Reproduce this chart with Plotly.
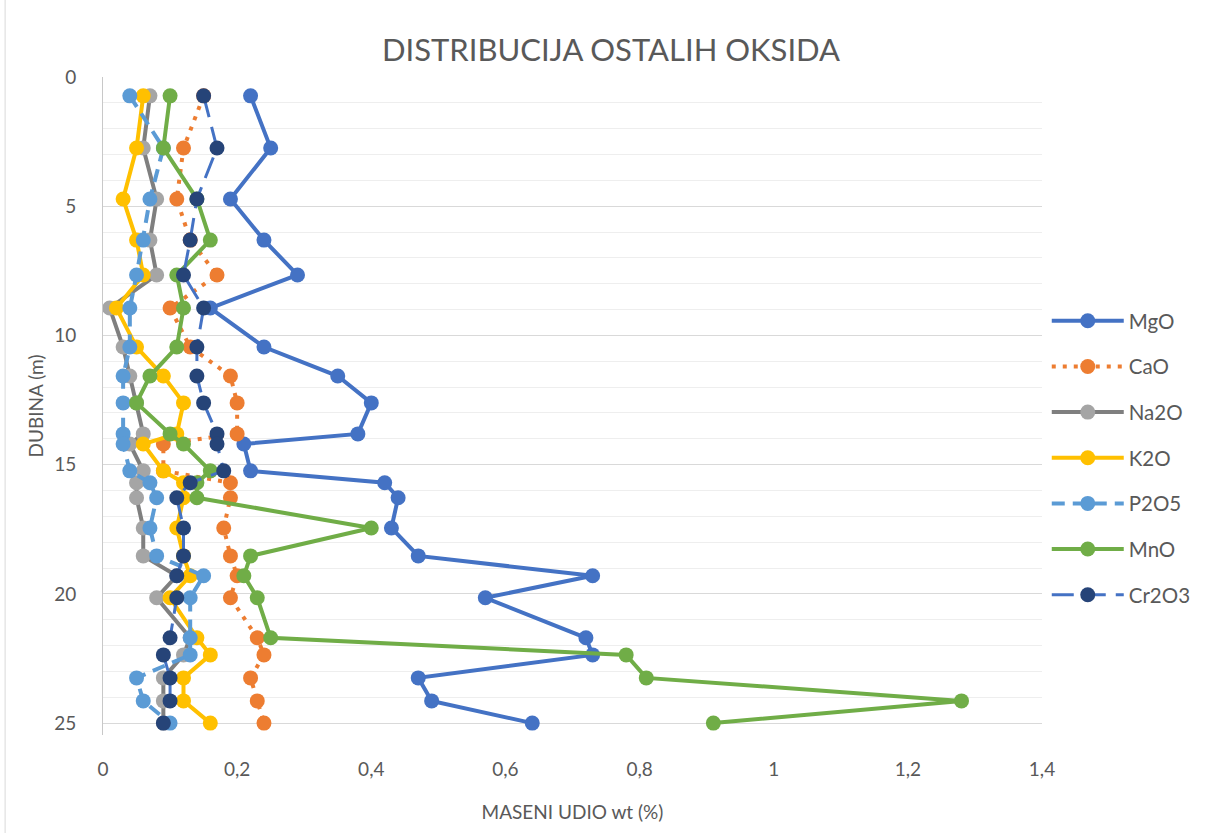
import plotly.graph_objects as go

depth = [0.73, 2.75, 4.72, 6.31, 7.66, 8.94, 10.45, 11.57, 12.61, 13.81, 14.2, 15.24,
         15.7, 16.28, 17.45, 18.53, 19.3, 20.15, 21.7, 22.36, 23.25, 24.14, 25.0]

mgo = [0.22, 0.25, 0.19, 0.24, 0.29, 0.16, 0.24, 0.35, 0.40, 0.38, 0.21, 0.22,
       0.42, 0.44, 0.43, 0.47, 0.73, 0.57, 0.72, 0.73, 0.47, 0.49, 0.64]
cao = [0.15, 0.12, 0.11, 0.13, 0.17, 0.10, 0.13, 0.19, 0.20, 0.20, 0.09, 0.09,
       0.19, 0.19, 0.18, 0.19, 0.20, 0.19, 0.23, 0.24, 0.22, 0.23, 0.24]
na2o = [0.07, 0.06, 0.08, 0.07, 0.08, 0.01, 0.03, 0.04, 0.05, 0.06, 0.04, 0.06,
        0.05, 0.05, 0.06, 0.06, 0.11, 0.08, 0.13, 0.12, 0.09, 0.09, 0.09]
k2o = [0.06, 0.05, 0.03, 0.05, 0.06, 0.02, 0.05, 0.09, 0.12, 0.11, 0.06, 0.09,
       0.12, 0.12, 0.11, 0.12, 0.13, 0.10, 0.14, 0.16, 0.12, 0.12, 0.16]
p2o5 = [0.04, 0.09, 0.07, 0.06, 0.05, 0.04, 0.04, 0.03, 0.03, 0.03, 0.03, 0.04,
        0.07, 0.08, 0.07, 0.08, 0.15, 0.13, 0.13, 0.13, 0.05, 0.06, 0.10]
mno = [0.10, 0.09, 0.14, 0.16, 0.11, 0.12, 0.11, 0.07, 0.05, 0.10, 0.12, 0.16,
       0.14, 0.14, 0.40, 0.22, 0.21, 0.23, 0.25, 0.78, 0.81, 1.28, 0.91]
cr2o3 = [0.15, 0.17, 0.14, 0.13, 0.12, 0.15, 0.14, 0.14, 0.15, 0.17, 0.17, 0.18,
         0.13, 0.11, 0.12, 0.12, 0.11, 0.11, 0.10, 0.09, 0.10, 0.10, 0.09]

x_ticks = [0, 0.2, 0.4, 0.6, 0.8, 1.0, 1.2, 1.4]
x_ticktext = ["0", "0,2", "0,4", "0,6", "0,8", "1", "1,2", "1,4"]
y_ticks = [0, 5, 10, 15, 20, 25]

series = [
    ("MgO", mgo, "#4472C4", "#4472C4", 4, "solid"),
    ("CaO", cao, "#ED7D31", "#ED7D31", 4, "4px,7px"),
    ("Na2O", na2o, "#7F7F7F", "#A5A5A5", 4, "solid"),
    ("K2O", k2o, "#FFC000", "#FFC000", 4, "solid"),
    ("P2O5", p2o5, "#5B9BD5", "#5B9BD5", 4, "13px,8px"),
    ("MnO", mno, "#70AD47", "#70AD47", 4, "solid"),
    ("Cr2O3", cr2o3, "#4472C4", "#264478", 3, "22px,10px"),
]

FONT = "Lato"
TXT = "#595959"

fig = go.Figure()
for i, (name, vals, lc, mc, lw, dash) in enumerate(series):
    fig.add_trace(go.Scatter(
        x=vals, y=depth, name=name, mode="lines+markers",
        line=dict(color=lc, width=lw, dash=dash),
        marker=dict(color=mc, size=15, line=dict(width=0)),
        legendgroup=f"g{i}",
    ))

fig.update_layout(
    width=1207, height=833,
    margin=dict(l=103, r=164, t=77, b=98),
    paper_bgcolor="white", plot_bgcolor="white",
    font=dict(family=FONT, color=TXT, size=19),
    title=dict(text="DISTRIBUCIJA OSTALIH OKSIDA", x=611 / 1207, xref="container",
               xanchor="center",
               y=1 - 50 / 833, yref="container", yanchor="middle",
               font=dict(size=31, color=TXT, family=FONT)),
    showlegend=True,
    legend=dict(x=1.004, xanchor="left", y=0.421, yanchor="middle",
                font=dict(size=20.5, color=TXT, family=FONT),
                tracegroupgap=16, itemwidth=72, bgcolor="rgba(0,0,0,0)"),
    xaxis=dict(range=[0, 1.4], tickvals=x_ticks, ticktext=x_ticktext,
               showgrid=False, zeroline=False, showline=False, automargin=False,
               ticks="", ticklabelstandoff=21,
               tickfont=dict(size=19, color=TXT),
               title=dict(text="MASENI UDIO wt (%)", standoff=26,
                          font=dict(size=19, color=TXT))),
    yaxis=dict(range=[25.46, 0], tickvals=y_ticks, automargin=False,
               showgrid=True, gridcolor="#D9D9D9", gridwidth=1,
               minor=dict(dtick=1, tick0=0, showgrid=True, gridcolor="#EEEEEE", gridwidth=1),
               zeroline=False, showline=True, linecolor="#C8C8C8", linewidth=1,
               ticks="", ticklabelstandoff=22,
               tickfont=dict(size=19, color=TXT),
               title=dict(text="DUBINA (m)", standoff=5,
                          font=dict(size=19, color=TXT))),
)

fig.add_shape(type="line", xref="paper", yref="paper",
              x0=(5 - 103) / 940, x1=(5 - 103) / 940, y0=-0.2, y1=1.2,
              line=dict(color="#D9D9D9", width=1))

fig.write_html("out.html",
               config={"displayModeBar": False},
               post_script="document.body.style.margin='0px';document.body.style.overflow='hidden';")
